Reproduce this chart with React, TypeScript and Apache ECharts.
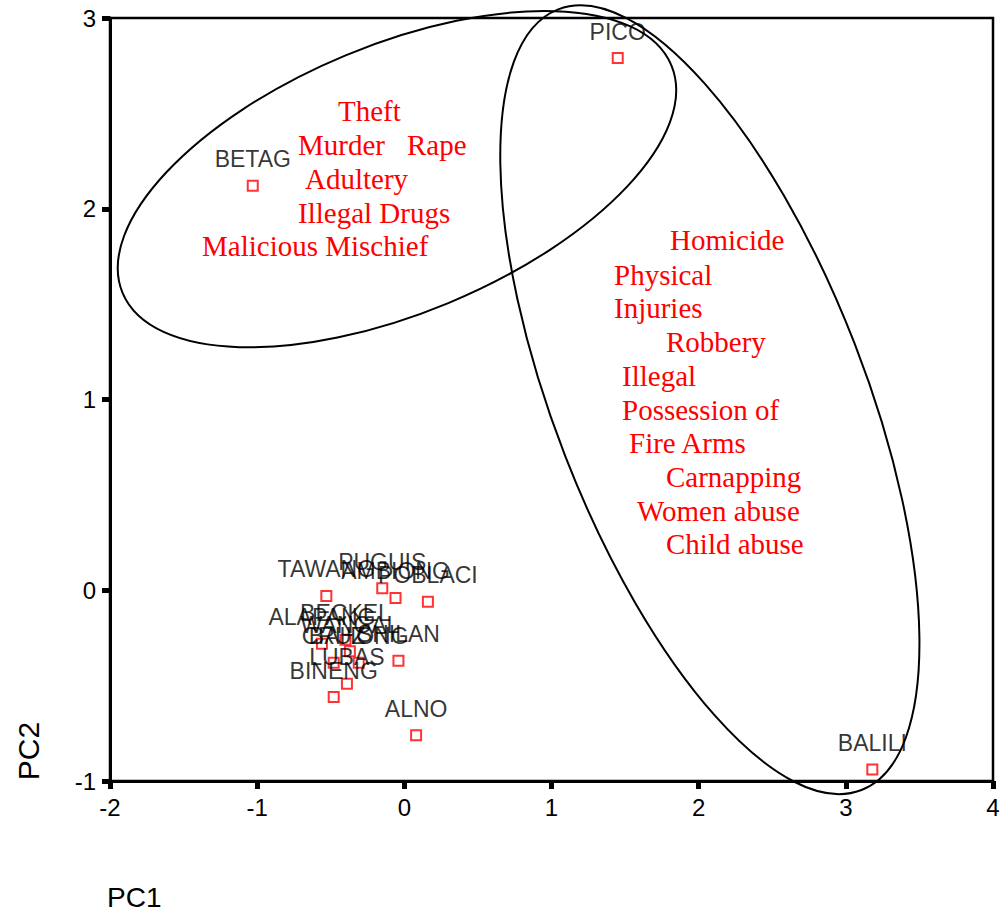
import React, { useEffect, useRef } from "react";
import * as echarts from "echarts";

// Barangay scores on the first two principal components
const townNames = [
  "TAWANG", "PUGUIS", "AMBIONG", "POBLACI", "ALAPANG", "BECKEL", "WANGAL", "BAHONG",
  "CRUZ", "SHILAN", "LUBAS", "BINENG", "ALNO", "PICO", "BETAG", "BALILI",
];
const pc1Scores = [-0.53, -0.15, -0.06, 0.16, -0.56, -0.4, -0.37, -0.31, -0.48, -0.04, -0.39, -0.48, 0.08, 1.45, -1.03, 3.18];
const pc2Scores = [-0.03, 0.01, -0.04, -0.06, -0.28, -0.26, -0.32, -0.38, -0.38, -0.37, -0.49, -0.56, -0.76, 2.79, 2.12, -0.94];

const xTickValues = [-2, -1, 0, 1, 2, 3, 4];
const yTickValues = [-1, 0, 1, 2, 3];

// Crime-type annotations for each cluster
const groupACrimes = ["Theft", "Murder", "Rape", "Adultery", "Illegal Drugs", "Malicious Mischief"];
const groupBCrimes = [
  "Homicide", "Physical", "Injuries", "Robbery", "Illegal", "Possession of",
  "Fire Arms", "Carnapping", "Women abuse", "Child abuse",
];

// Cluster ellipses: centre (PC1, PC2), semi-axes (in PC1 units), rotation (deg)
const ellipseCenterPC1 = [-0.05, 2.076];
const ellipseCenterPC2 = [2.155, 0.999];
const ellipseRadiusX = [2.018, 1.055];
const ellipseRadiusY = [0.911, 2.846];
const ellipseRotation = [22.5, 21.2];

// pixel layout of annotation texts
const groupALayout = [
  [338, 111], [298, 145], [407, 145], [305, 179], [298, 213], [202, 246],
];
const groupBLayout = [
  [670, 240], [614, 275], [614, 308], [666, 342], [622, 376], [622, 410],
  [629, 443], [666, 477], [637, 511], [666, 544],
];

const SANS = '"Liberation Sans", Arial, sans-serif';
const SERIF = '"Liberation Serif", "Times New Roman", serif';

export default function App() {
  const ref = useRef<HTMLDivElement>(null);

  useEffect(() => {
    if (!ref.current) return;
    const chart = echarts.init(ref.current, undefined, { renderer: "svg" });

    const scatterData = pc1Scores.map((x, i) => [x, pc2Scores[i], townNames[i]]);
    const ellipseData = ellipseCenterPC1.map((cx, i) => [
      cx, ellipseCenterPC2[i], ellipseRadiusX[i], ellipseRadiusY[i], ellipseRotation[i],
    ]);

    const makeCrimeText = (t: string, pos: number[]) => ({
      type: "text",
      x: pos[0],
      y: pos[1],
      silent: true,
      style: {
        text: t,
        fill: "#ff0000",
        font: `29px ${SERIF}`,
        textAlign: "left",
        textVerticalAlign: "middle",
      },
    });
    const crimeTexts: any[] = [
      ...groupACrimes.map((t, i) => makeCrimeText(t, groupALayout[i])),
      ...groupBCrimes.map((t, i) => makeCrimeText(t, groupBLayout[i])),
    ];

    chart.setOption({
      animation: false,
      backgroundColor: "#ffffff",
      grid: {
        left: 110,
        right: 15,
        top: 18,
        bottom: 143,
        show: true,
        borderColor: "#000",
        borderWidth: 2.5,
        backgroundColor: "transparent",
      },
      xAxis: {
        type: "value",
        min: xTickValues[0],
        max: xTickValues[xTickValues.length - 1],
        interval: 1,
        axisLine: { show: true, onZero: false, lineStyle: { color: "#000", width: 3 } },
        axisTick: { show: true, length: 8, lineStyle: { color: "#000", width: 5 } },
        axisLabel: { color: "#000", fontSize: 24, fontFamily: SANS, margin: 14 },
        splitLine: { show: false },
      },
      yAxis: {
        type: "value",
        min: yTickValues[0],
        max: yTickValues[yTickValues.length - 1],
        interval: 1,
        axisLine: { show: true, onZero: false, lineStyle: { color: "#000", width: 3 } },
        axisTick: { show: true, length: 8, lineStyle: { color: "#000", width: 5 } },
        axisLabel: { color: "#000", fontSize: 24, fontFamily: SANS, margin: 14 },
        splitLine: { show: false },
      },
      series: [
        {
          type: "custom",
          clip: false,
          silent: true,
          encode: { x: 0, y: 1 },
          data: ellipseData,
          renderItem: (params: any, api: any) => {
            const c = api.coord([api.value(0), api.value(1)]);
            const px = api.size([1, 1])[0];
            return {
              type: "ellipse",
              x: c[0],
              y: c[1],
              rotation: (api.value(4) * Math.PI) / 180,
              shape: { cx: 0, cy: 0, rx: api.value(2) * px, ry: api.value(3) * px },
              style: { fill: "none", stroke: "#000", lineWidth: 2 },
            };
          },
        },
        {
          type: "scatter",
          symbol: "rect",
          symbolSize: 10,
          data: scatterData,
          itemStyle: { color: "rgba(255,255,255,0)", borderColor: "#ff0000", borderWidth: 2 },
          label: {
            show: true,
            position: "top",
            distance: 9,
            formatter: (p: any) => p.data[2],
            color: "#000",
            fontSize: 23,
            fontFamily: SANS,
          },
          emphasis: { disabled: true },
        },
      ],
      graphic: [
        ...crimeTexts,
        {
          type: "text",
          x: 28,
          y: 751,
          rotation: Math.PI / 2,
          silent: true,
          style: {
            text: "PC2",
            fill: "#000",
            font: `30px ${SANS}`,
            textAlign: "center",
            textVerticalAlign: "middle",
          },
        },
        {
          type: "text",
          x: 107,
          y: 897,
          silent: true,
          style: {
            text: "PC1",
            fill: "#000",
            font: `28px ${SANS}`,
            textAlign: "left",
            textVerticalAlign: "middle",
          },
        },
      ],
    });

    return () => chart.dispose();
  }, []);

  return (
    <div
      ref={ref}
      style={{ position: "fixed", left: 0, top: 0, width: 1008, height: 924, background: "#fff" }}
    />
  );
}
